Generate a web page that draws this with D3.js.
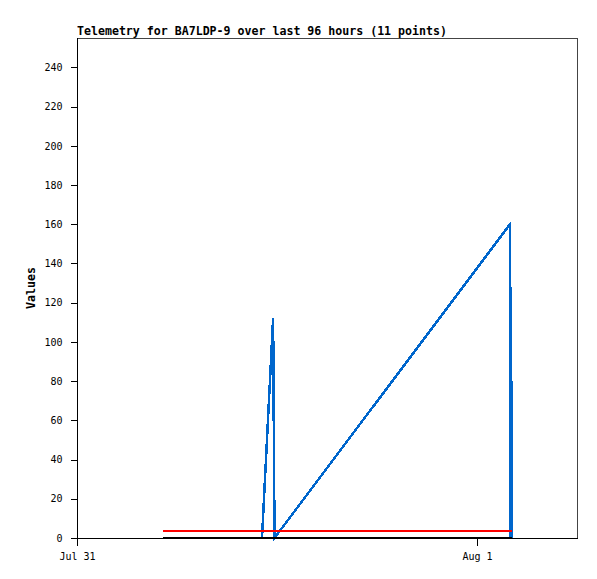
<!DOCTYPE html>
<html>
<head>
<meta charset="utf-8">
<script src="https://cdn.jsdelivr.net/npm/d3@7/dist/d3.min.js"></script>
<style>
  html, body { margin: 0; padding: 0; background: #fff; }
  svg { display: block; }
</style>
</head>
<body>
<svg id="chart" width="597" height="579"></svg>
<script>
// ---- data ----
const titleText = "Telemetry for BA7LDP-9 over last 96 hours (11 points)";
const yLabel = "Values";
const times = [
  "2024-07-31T05:10:00",
  "2024-07-31T11:06:00",
  "2024-07-31T11:46:00",
  "2024-07-31T11:51:00",
  "2024-08-01T01:58:48",
  "2024-08-01T02:00:36",
  "2024-08-01T02:02:00",
  "2024-08-01T02:02:44",
  "2024-08-01T02:03:28",
  "2024-08-01T02:04:12",
  "2024-08-01T02:04:55"
];
const seriesBlue  = [0, 0, 112, 0, 160, 0, 128, 64, 80, 64, 0];
const seriesRed   = [3.7, 3.7, 3.7, 3.7, 3.7, 3.7, 3.7, 3.7, 3.7, 3.7, 3.7];
const seriesBlack = [0, 0, 0, 0, 0, 0, 0, 0, 0, 0, 0];
const xDomain = ["2024-07-31T00:00:00", "2024-08-01T06:00:00"];
const xTickTimes = ["2024-07-31T00:00:00", "2024-08-01T00:00:00"];
const xTickLabels = ["Jul 31", "Aug 1"];
const yTicks = [0, 20, 40, 60, 80, 100, 120, 140, 160, 180, 200, 220, 240];
const yMax = 255;

// ---- chart ----
const parse = d3.timeParse("%Y-%m-%dT%H:%M:%S");
const svg = d3.select("#chart");
const L = 77, R = 577, T = 38, B = 538;

const x = d3.scaleTime().domain(xDomain.map(parse)).range([L, R]);
const y = d3.scaleLinear().domain([0, yMax]).range([B, T]);

const mono = "'DejaVu Sans Mono', 'Liberation Mono', monospace";

// frame (top/right gray)
svg.append("rect")
  .attr("x", L + 0.5).attr("y", T + 0.5)
  .attr("width", R - L).attr("height", B - T)
  .attr("fill", "none").attr("stroke", "#444").attr("stroke-width", 1)
  .attr("shape-rendering", "crispEdges");

// y axis
const yAxis = d3.axisLeft(y).tickValues(yTicks).tickSize(7).tickPadding(8).tickFormat(d3.format("d"));
const gy = svg.append("g").attr("transform", `translate(${L + 0.5},0)`).call(yAxis);
gy.select(".domain").remove();
gy.selectAll("line").attr("stroke", "#000").attr("shape-rendering", "crispEdges");
gy.selectAll("text").attr("font-family", mono).attr("font-size", 10).attr("fill", "#000");

// x axis
const xAxis = d3.axisBottom(x).tickValues(xTickTimes.map(parse)).tickSize(7).tickPadding(7)
  .tickFormat((d, i) => xTickLabels[i]);
const gx = svg.append("g").attr("transform", `translate(0,${B + 0.5})`).call(xAxis);
gx.select(".domain").remove();
gx.selectAll("line").attr("stroke", "#000").attr("shape-rendering", "crispEdges");
gx.selectAll("text").attr("font-family", mono).attr("font-size", 10).attr("fill", "#000");

// left & bottom axis lines (black)
svg.append("line").attr("x1", L + 0.5).attr("x2", L + 0.5).attr("y1", T).attr("y2", B + 7)
  .attr("stroke", "#000").attr("shape-rendering", "crispEdges");
svg.append("line").attr("x1", L).attr("x2", R + 1).attr("y1", B + 0.5).attr("y2", B + 0.5)
  .attr("stroke", "#000").attr("shape-rendering", "crispEdges");

// series
const pts = (vals) => times.map((t, i) => [parse(t), vals[i]]);
const line = d3.line().x(d => x(d[0])).y(d => y(d[1]));
const series = [
  { vals: seriesBlue, color: "#0066cc", w: 2.5 },
  { vals: seriesRed, color: "#ff0000", w: 2 },
  { vals: seriesBlack, color: "#000000", w: 2 }
];
series.forEach(s => {
  svg.append("path")
    .attr("d", line(pts(s.vals)))
    .attr("fill", "none")
    .attr("stroke", s.color)
    .attr("stroke-width", s.w)
    .attr("stroke-linejoin", "miter")
    .attr("shape-rendering", "crispEdges");
});

// title
svg.append("text")
  .attr("x", L).attr("y", 35)
  .attr("font-family", mono).attr("font-weight", "bold").attr("font-size", 11.6)
  .attr("fill", "#000")
  .text(titleText);

// y label
svg.append("text")
  .attr("transform", `translate(35,${(T + B) / 2}) rotate(-90)`)
  .attr("text-anchor", "middle")
  .attr("font-family", mono).attr("font-weight", "bold").attr("font-size", 11.6)
  .attr("fill", "#000")
  .text(yLabel);
</script>
</body>
</html>
